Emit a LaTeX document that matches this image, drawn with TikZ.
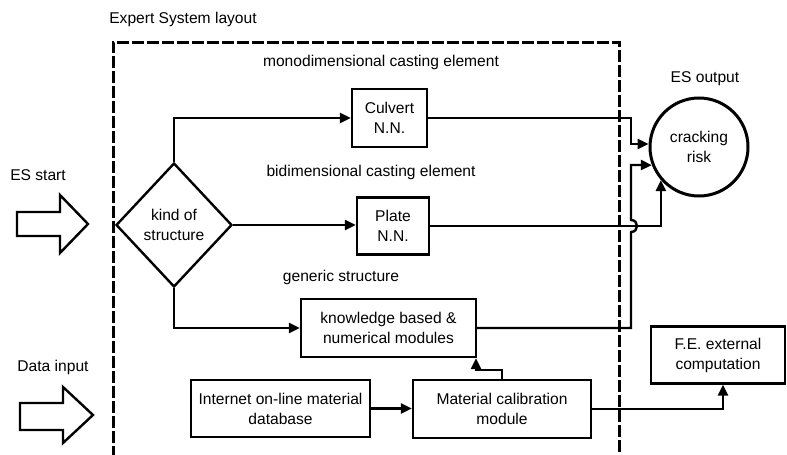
\documentclass[tikz,border=0pt]{standalone}
\usepackage{fontspec}
\setmainfont{Liberation Sans}
\usetikzlibrary{shapes.geometric,arrows.meta,calc}
\begin{document}
\begin{tikzpicture}[x=1pt,y=-1pt,
 txt/.style={font=\fontsize{15.6}{20}\selectfont},
 box/.style={txt,draw,line width=2.4pt,align=center,inner sep=0pt},
 lbl/.style={txt,inner sep=0pt},
 conn/.style={line width=2.4pt},
 arr/.style={conn,-{Triangle[length=11pt,width=10pt]}},
 bigarrow/.style={draw,line width=2.4pt,line join=miter},
 esbox/.style={line width=3pt,dash pattern=on 12pt off 3pt}]
\useasboundingbox (0,0) rectangle (787,455);

% dashed expert system frame
\draw[esbox] (113,458) -- (113,42) -- (619,42) -- (619,458);

% labels
\node[lbl] (title) at (183,19) {Expert System layout};
\node[lbl] (mono) at (381,62) {monodimensional casting element};
\node[lbl] (bidi) at (371,172) {bidimensional casting element};
\node[lbl] (gen) at (341,277) {generic structure};
\node[lbl] (esout) at (705,79) {ES output};
\node[lbl] (esstart) at (38,175) {ES start};
\node[lbl] (datain) at (53,367) {Data input};

% big hollow arrows
\draw[bigarrow] (17,212) -- (60,212) -- (60,195) -- (88,224) -- (60,253) -- (60,236) -- (17,236) -- cycle;
\draw[bigarrow] (20,403) -- (63,403) -- (63,387) -- (93,415) -- (63,443) -- (63,430) -- (20,430) -- cycle;

% nodes
\node[box,diamond,minimum width=116pt,minimum height=124pt] (dia) at (174,225) {kind of\\structure};
\node[box,minimum width=75pt,minimum height=58pt] (cul) at (389.5,118) {Culvert\\N.N.};
\node[box,minimum width=72pt,minimum height=57pt] (pla) at (393,226) {Plate\\N.N.};
\node[box,minimum width=175pt,minimum height=58pt] (kno) at (388.5,328) {knowledge based \&\\numerical modules};
\node[box,minimum width=179pt,minimum height=57pt] (int) at (280.5,408.5) {Internet on-line material\\database};
\node[box,minimum width=178pt,minimum height=58pt] (mat) at (502,409) {Material calibration\\module};
\node[box,minimum width=134pt,minimum height=57pt] (fe) at (718,355) {F.E. external\\computation};
\node[box,circle,line width=3pt,minimum size=98pt] (cr) at (699,147) {cracking\\risk};

% connectors
\draw[arr] (dia.north) |- (cul.west);
\draw[arr] (dia.east) -- (dia.east -| pla.west);
\draw[arr] (dia.south) |- (kno.west);
\draw[arr] (int.east) -- (int.east -| mat.west);
\coordinate (mk) at (476,370);
\draw[arr] (mat.north) |- (mk) -- (mk |- kno.south);
\draw[arr] (mat.east) -| ($(fe.south)+(5,0)$);

\coordinate (v1) at (631,144);
\draw[arr] (cul.east) -| (v1) -- (v1 -| cr.west);
\draw[arr] (pla.east) -| (cr.221);
\coordinate (hb) at (631,232);
\coordinate (ht) at (631,220);
\coordinate (k2) at (631,165);
\draw[arr] (kno.east) -| (hb) .. controls ($(hb)+(8,0)$) and ($(ht)+(8,0)$) .. (ht) -- (k2) -- (cr.201.5);
\end{tikzpicture}
\end{document}
